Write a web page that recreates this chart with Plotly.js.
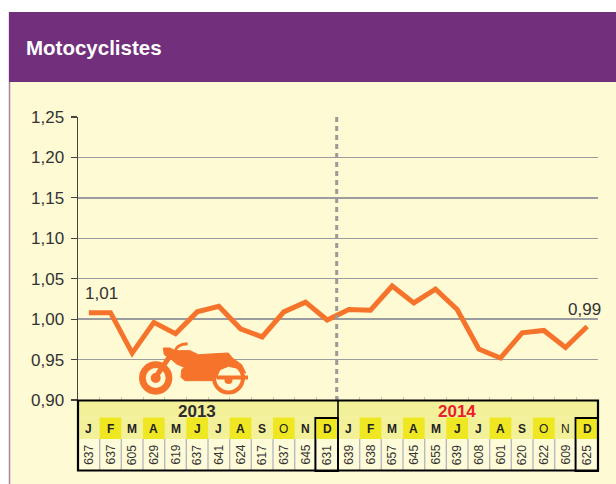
<!DOCTYPE html>
<html><head><meta charset="utf-8">
<script src="https://cdn.plot.ly/plotly-3.0.1.min.js"></script>
<style>html,body{margin:0;padding:0;background:#fff}#c{width:616px;height:484px}</style>
</head><body><div id="c"></div>
<script>
const months13 = ['J','F','M','A','M','J','J','A','S','O','N','D'];
const months14 = ['J','F','M','A','M','J','J','A','S','O','N','D'];
const values13 = [1.008,1.008,0.958,0.996,0.982,1.009,1.016,0.988,0.978,1.009,1.021,0.999];
const values14 = [1.012,1.011,1.041,1.020,1.037,1.012,0.963,0.952,0.983,0.986,0.965,0.991];
const counts13 = [637,637,605,629,619,637,641,624,617,637,645,631];
const counts14 = [639,638,657,645,655,639,608,601,620,622,609,625];
const yTicks = [0.90,0.95,1.00,1.05,1.10,1.15,1.20,1.25];
const highlighted = [1,3,5,7,9,11,13,15,17,19,21,23];
const lightMonths = [9,21,22];

const W=616,H=484,L=78,T=117,R=598,B=400;
const px=x=>(x-L)/(R-L), py=y=>(B-y)/(B-T);
const months=months13.concat(months14), counts=counts13.concat(counts14), values=values13.concat(values14);
const idx=values.map((_,i)=>i);
const ORANGE='#f6732b', CREAM='#fefad3';
const shapes=[], ann=[];
function rect(x0,y0,x1,y1,fill,layer,line){shapes.push({type:'rect',xref:'paper',yref:'paper',x0:px(x0),x1:px(x1),y0:py(y0),y1:py(y1),fillcolor:fill,layer:layer||'above',line:line||{width:0}});}
function lineP(x0,y0,x1,y1,c,w,dash,layer){shapes.push({type:'line',xref:'paper',yref:'paper',x0:px(x0),x1:px(x1),y0:py(y0),y1:py(y1),layer:layer||'above',line:{color:c,width:w,dash:dash||'solid'}});}
function circ(cx,cy,r,fill,lc,lw){shapes.push({type:'circle',xref:'paper',yref:'paper',x0:px(cx-r),x1:px(cx+r),y0:py(cy-r),y1:py(cy+r),fillcolor:fill,layer:'above',line:{color:lc||fill,width:lw||0}});}
function poly(pts,fill){const d=pts.map((p,i)=>(i?'L':'M')+px(p[0])+','+py(p[1])).join(' ')+' Z';shapes.push({type:'path',xref:'paper',yref:'paper',path:d,fillcolor:fill,layer:'above',line:{color:fill,width:1}});}
function txt(x,y,t,size,color,bold,angle,family){ann.push({xref:'paper',yref:'paper',x:px(x),y:py(y),text:bold?'<b>'+t+'</b>':t,showarrow:false,xanchor:'center',yanchor:'middle',textangle:angle||0,font:{size:size,color:color,family:family||'Liberation Sans, Arial, sans-serif'}});}

// panel
rect(9,12,616,484,CREAM,'below');
lineP(9.5,12,9.5,484,'#a983ad',1.5,'solid','below');
rect(9,12,616,82,'#722f7b','below');
txt(93.5,47.5,'Motocyclistes',20.5,'#ffffff',true);

// dashed year separator
lineP(336.7,T,336.7,B,'#9a9a9a',3,'5px,4px');

// table
const cw=(R-L)/24;
rect(L,B,R,417.5,'#f3f09a');
rect(L,417.5,R,439,'#f3f09a');
rect(L,439,R,471,'#fefbd8');
highlighted.forEach(i=>rect(L+i*cw,417.5,L+(i+1)*cw,439,'#eee722'));
for(let i=1;i<24;i++)lineP(L+i*cw,439,L+i*cw,470,'#b9b9c0',1.4);
months.forEach((m,i)=>{
  txt(L+(i+.5)*cw,429,m,12,'#222',!lightMonths.includes(i));
  txt(L+(i+.5)*cw,455,String(counts[i]),12,'#333',false,-90);
});
txt(197,411,'2013',17,'#2c2c2c',true);
txt(457,411,'2014',17,'#e8202a',true);
shapes.push({type:'rect',xref:'paper',yref:'paper',x0:px(L),x1:px(R),y0:py(400.5),y1:py(470.5),layer:'above',line:{color:'#000',width:2.2}});
lineP(338,400,338,471,'#000',1.6);
rect(315.3,418,338,471,'rgba(0,0,0,0)','above',{color:'#000',width:1.8});
rect(575.5,418,598,471,'rgba(0,0,0,0)','above',{color:'#000',width:1.8});

// value labels
txt(101,293,'1,01',17,'#333');
txt(584,309,'0,99',17,'#333');

// motorcycle
const bx=z=>135+z/3, by=z=>338+z/3;
lineP(170,356,155,378,ORANGE,5);
circ(155.7,378,13.3,'rgba(0,0,0,0)',ORANGE,6.7);
circ(155.7,378,5,ORANGE);
circ(228.5,378,14.5,'rgba(0,0,0,0)',ORANGE,4);
poly([[85,30],[105,30],[120,38],[165,38],[190,50],[280,45],[292,60],[320,80],[332,105],[305,90],[280,85],[255,95],[240,128],[150,128],[138,118],[140,95],[148,88],[125,78],[105,60],[88,50]].map(p=>[bx(p[0]),by(p[1])]),ORANGE);
shapes.push({type:'path',xref:'paper',yref:'paper',layer:'above',path:'M'+px(bx(120))+','+py(by(40))+' Q'+px(bx(125))+','+py(by(18))+' '+px(bx(158))+','+py(by(17)),line:{color:ORANGE,width:3}});
lineP(217,377.5,248,377.5,ORANGE,4);
circ(228.5,380,4,ORANGE);

const data=[{x:idx,y:values,type:'scatter',mode:'lines',line:{color:ORANGE,width:5,shape:'linear'},hoverinfo:'skip'}];
const layout={
  width:W,height:H,showlegend:false,
  paper_bgcolor:'#ffffff',plot_bgcolor:'rgba(0,0,0,0)',
  separators:',.',
  margin:{l:L,r:W-R,t:T,b:H-B,pad:0},
  xaxis:{range:[-0.5,23.5],tickmode:'array',tickvals:idx.map(i=>i-0.5),showticklabels:false,ticks:'inside',ticklen:3,tickcolor:'#c4c4bb',tickwidth:1,showgrid:false,zeroline:false,showline:false,fixedrange:true},
  yaxis:{range:[0.90,1.25],tickmode:'array',tickvals:yTicks,tickformat:'.2f',ticks:'outside',ticklen:6,tickcolor:'#444',tickwidth:1.2,ticklabelstandoff:3,showline:true,linecolor:'#444',linewidth:1.5,showgrid:true,gridcolor:'#9a9ca0',gridwidth:1.3,zeroline:false,tickfont:{family:'Liberation Sans, Arial, sans-serif',size:17,color:'#333'},fixedrange:true},
  shapes:shapes,annotations:ann
};
Plotly.newPlot('c',data,layout,{displayModeBar:false,staticPlot:true});
</script></body></html>
